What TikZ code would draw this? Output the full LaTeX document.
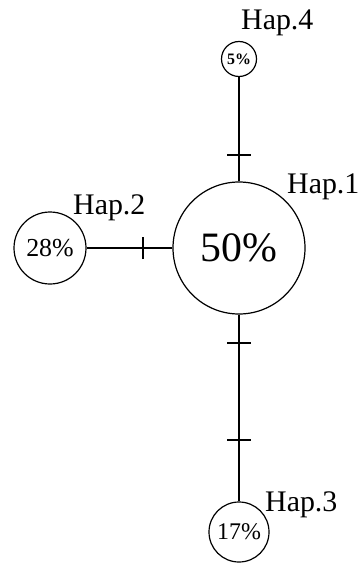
\documentclass[tikz,border=0pt]{standalone}
\usepackage{fontspec}
\setmainfont{Liberation Serif}
\begin{document}
\begin{tikzpicture}[x=1bp,y=-1bp,
  hap/.style={circle,draw,line width=1.2bp,inner sep=0pt,minimum size=#1},
  link/.style={line width=1.5bp},
  hlabel/.style={anchor=base west,inner sep=0pt,font=\fontsize{30}{30}\selectfont}]
\useasboundingbox[fill=white] (0,0) rectangle (361,563);
% haplotype circles
\node[hap=132bp,font=\fontsize{42}{42}\selectfont] (h1) at (239,248) {50\%};
\node[hap=72bp,font=\fontsize{26}{26}\selectfont] (h2) at (50,248) {28\%};
\node[hap=60bp,font=\fontsize{24}{24}\selectfont] (h3) at (239,532) {17\%};
\node[hap=35bp,font=\bfseries\fontsize{16}{16}\selectfont] (h4) at (239,59) {5\%};
% labels
\node[hlabel] (l1) at (287,193) {Hap.1};
\node[hlabel] (l2) at (73,214) {Hap.2};
\node[hlabel] (l3) at (265,511) {Hap.3};
\node[hlabel] (l4) at (241,30) {Hap.4};
% connectors
\draw[link] (h1) -- (h4);
\draw[link] (h1) -- (h2);
\draw[link] (h1) -- (h3);
% mutation ticks
\coordinate (t1) at (239,155);
\coordinate (t2) at (143,248);
\coordinate (t3) at (239,343);
\coordinate (t4) at (239,440);
\draw[link] ([xshift=-12bp]t1) -- ([xshift=12bp]t1);
\draw[link] ([yshift=-11bp]t2) -- ([yshift=11bp]t2);
\draw[link] ([xshift=-12bp]t3) -- ([xshift=12bp]t3);
\draw[link] ([xshift=-12bp]t4) -- ([xshift=12bp]t4);
\end{tikzpicture}
\end{document}
